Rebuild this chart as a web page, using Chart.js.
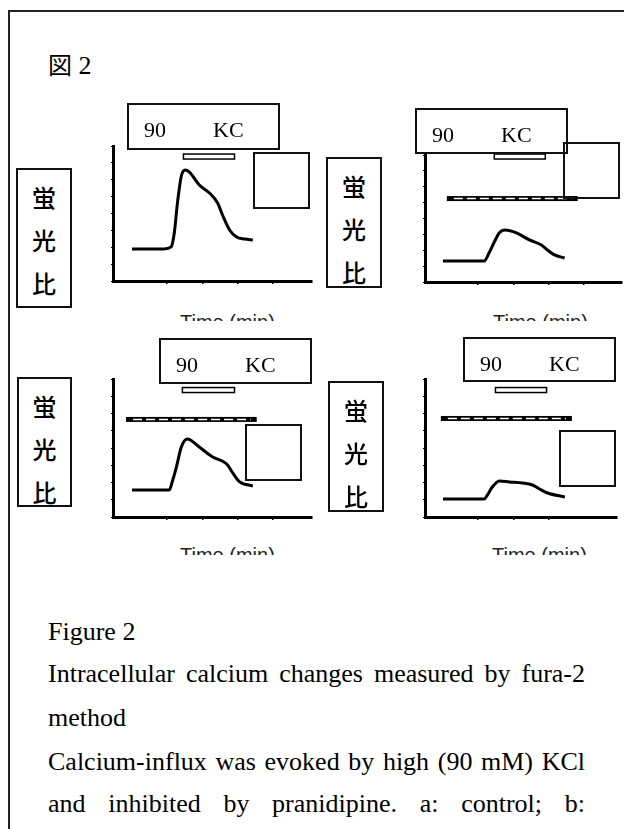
<!DOCTYPE html>
<html>
<head>
<meta charset="utf-8">
<script src="https://cdn.jsdelivr.net/npm/chart.js@4/dist/chart.umd.min.js"></script>
<style>
  html, body { margin: 0; padding: 0; background: #fff; overflow: hidden; }
  body { position: relative; width: 624px; height: 829px; }
  .abs { position: absolute; }
  .page { left: 8px; top: 10px; width: 700px; height: 900px; border: 2px solid #222; box-sizing: border-box; }
  .box { position: absolute; border: 2px solid #111; box-sizing: border-box; }
  .kc span { position: absolute; top: 14px; font: 22px/22px "Liberation Serif", serif; color: #000; }
  .ylab { padding-top: 5px; text-align: center; font: 500 24px/43px "Noto Sans CJK JP", sans-serif; color: #000; }
  .ylab div { height: 43px; }
  .tmin { position: absolute; overflow: hidden; width: 110px; }
  .tmin div { font: 20px/20px "Liberation Sans", Arial, sans-serif; color: #222; white-space: nowrap; }
  .cap { position: absolute; left: 48px; width: 537px; font: 26px/26px "Liberation Serif", serif; color: #000; white-space: nowrap; }
  .just { text-align: justify; text-align-last: justify; white-space: normal; }
  canvas { position: absolute; }
</style>
</head>
<body>
<div class="abs page"></div>
<div class="abs" style="left:48px; top:51px; font:26px/26px 'Liberation Serif', serif; color:#000;"><span style="font-family:'Noto Sans CJK JP'; font-size:24px;">図</span> 2</div>

<canvas id="chartA" width="211" height="150" style="left:107px; top:138px;"></canvas>
<canvas id="chartB" width="209" height="142" style="left:419px; top:147px;"></canvas>
<canvas id="chartC" width="211" height="153" style="left:107px; top:371px;"></canvas>
<canvas id="chartD" width="204" height="153" style="left:419px; top:371px;"></canvas>

<!-- panel a -->
<div class="box kc" style="left:127px; top:103px; width:153px; height:47px;"><span style="left:15px;">90</span><span style="left:84px;">KC</span></div>
<div class="box" style="left:253px; top:152px; width:57px; height:57px;"></div>
<div class="box ylab" style="left:16px; top:168px; width:56px; height:140px;"><div>蛍</div><div>光</div><div>比</div></div>
<div class="tmin" style="left:180px; top:312px; height:9px;"><div>Time (min)</div></div>

<!-- panel b -->
<div class="box kc" style="left:415px; top:108px; width:153px; height:46px;"><span style="left:15px;">90</span><span style="left:84px;">KC</span></div>
<div class="box" style="left:563px; top:142px; width:57px; height:57px;"></div>
<div class="box ylab" style="left:326px; top:157px; width:56px; height:131px;"><div>蛍</div><div>光</div><div>比</div></div>
<div class="tmin" style="left:493px; top:312px; height:9px;"><div>Time (min)</div></div>

<!-- panel c -->
<div class="box kc" style="left:159px; top:338px; width:153px; height:46px;"><span style="left:15px;">90</span><span style="left:84px;">KC</span></div>
<div class="box" style="left:245px; top:424px; width:57px; height:57px;"></div>
<div class="box ylab" style="left:17px; top:377px; width:55px; height:130px;"><div>蛍</div><div>光</div><div>比</div></div>
<div class="tmin" style="left:180px; top:545px; height:10px;"><div>Time (min)</div></div>

<!-- panel d -->
<div class="box kc" style="left:463px; top:337px; width:153px; height:45px;"><span style="left:15px;">90</span><span style="left:84px;">KC</span></div>
<div class="box" style="left:559px; top:430px; width:57px; height:57px;"></div>
<div class="box ylab" style="left:328px; top:381px; width:56px; height:131px;"><div>蛍</div><div>光</div><div>比</div></div>
<div class="tmin" style="left:492px; top:545px; height:10px;"><div>Time (min)</div></div>

<div class="cap" style="top:619px;">Figure 2</div>
<div class="cap just" style="top:661px;">Intracellular calcium changes measured by fura-2</div>
<div class="cap" style="top:705px;">method</div>
<div class="cap just" style="top:749px;">Calcium-influx was evoked by high (90 mM) KCl</div>
<div class="cap just" style="top:791px;">and inhibited by pranidipine. a: control; b:</div>

<script>
// traces, time in min, ratio in arbitrary units (0-10)
const timeA = [0, 0.91, 1.11, 1.2, 1.29, 1.4, 1.51, 1.63, 1.91, 2.2, 2.43, 2.57, 2.77, 2.97, 3.2, 3.43];
const ratioA = [2.37, 2.37, 2.52, 3.56, 5.78, 7.78, 8.22, 8.07, 7.11, 6.52, 5.78, 4.89, 3.78, 3.26, 3.11, 3.04];

const timeB = [0, 1.17, 1.31, 1.46, 1.6, 1.77, 2.09, 2.46, 2.8, 2.97, 3.17, 3.46];
const ratioB = [1.65, 1.65, 2.28, 3.15, 3.86, 4.09, 3.86, 3.31, 2.91, 2.52, 2.13, 1.89];

const timeC = [0, 1.06, 1.14, 1.26, 1.4, 1.57, 1.91, 2.29, 2.69, 2.86, 3.06, 3.43];
const ratioC = [1.96, 1.96, 2.54, 3.62, 5.07, 5.65, 5.07, 4.35, 3.84, 3.19, 2.54, 2.25];

const timeD = [0, 1.17, 1.26, 1.4, 1.6, 1.89, 2.26, 2.54, 2.74, 2.97, 3.46];
const ratioD = [1.3, 1.3, 1.59, 2.17, 2.61, 2.54, 2.46, 2.32, 2.03, 1.74, 1.45];

// [start, end, level] of the KCl bar and of the drug bar
const kclA = [1.46, 2.91, 9.22];
const kclB = [1.46, 2.91, 9.88];
const kclC = [1.43, 2.91, 9.2];
const kclD = [1.49, 2.94, 9.2];
const drugB = [0.11, 3.83, 6.57];
const drugC = [-0.17, 3.54, 7.07];
const drugD = [-0.06, 3.66, 7.14];

// x axis limits (min) for each panel
const xRangeA = [-0.54, 5.11];
const xRangeB = [-0.51, 5.09];
const xRangeC = [-0.54, 5.11];
const xRangeD = [-0.51, 4.94];

function barsPlugin(kcl, drug) {
  return {
    id: 'bars',
    afterDatasetsDraw(chart) {
      const ctx = chart.ctx;
      const x = chart.scales.x;
      const y = chart.scales.y;
      ctx.save();
      if (drug) {
        let x0 = x.getPixelForValue(drug[0]);
        let x1 = x.getPixelForValue(drug[1]);
        let yc = y.getPixelForValue(drug[2]);
        ctx.fillStyle = '#000';
        ctx.fillRect(x0, yc - 2.5, x1 - x0, 5);
        ctx.strokeStyle = '#fff';
        ctx.lineWidth = 1.5;
        ctx.setLineDash([9, 4]);
        ctx.beginPath();
        ctx.moveTo(x0 + 7, yc);
        ctx.lineTo(x1 - 6, yc);
        ctx.stroke();
        ctx.setLineDash([]);
      }
      if (kcl) {
        let x0 = x.getPixelForValue(kcl[0]);
        let x1 = x.getPixelForValue(kcl[1]);
        let yc = y.getPixelForValue(kcl[2]);
        ctx.fillStyle = '#fff';
        ctx.fillRect(x0, yc - 2.5, x1 - x0, 5);
        ctx.strokeStyle = '#000';
        ctx.lineWidth = 1.5;
        ctx.strokeRect(x0, yc - 2.5, x1 - x0, 5);
      }
      ctx.restore();
    }
  };
}

function makePanel(id, times, ratios, xRange, kcl, drug) {
  let points = [];
  for (let i = 0; i < times.length; i++) {
    points.push({x: times[i], y: ratios[i]});
  }
  new Chart(document.getElementById(id), {
    type: 'line',
    data: {
      datasets: [{
        data: points,
        borderColor: '#000',
        borderWidth: 3,
        pointRadius: 0,
        cubicInterpolationMode: 'monotone',
        clip: false
      }]
    },
    options: {
      responsive: false,
      animation: false,
      events: [],
      layout: { padding: {left: 4, top: 8, right: 6, bottom: 4} },
      plugins: { legend: {display: false}, tooltip: {enabled: false} },
      scales: {
        x: {
          type: 'linear', min: xRange[0], max: xRange[1],
          ticks: {display: false, stepSize: 1},
          afterBuildTicks: s => { s.ticks = s.ticks.filter(t => Number.isInteger(t.value)); },
          grid: {display: true, drawOnChartArea: false, tickLength: 3, color: '#000', lineWidth: 1.5},
          border: {display: true, color: '#000', width: 3}
        },
        y: {
          min: 0, max: 10,
          ticks: {display: false, stepSize: 1.25},
          grid: {display: true, drawOnChartArea: false, tickLength: 2, color: '#000', lineWidth: 1},
          border: {display: true, color: '#000', width: 3}
        }
      }
    },
    plugins: [barsPlugin(kcl, drug)]
  });
}

makePanel('chartA', timeA, ratioA, xRangeA, kclA, null);
makePanel('chartB', timeB, ratioB, xRangeB, kclB, drugB);
makePanel('chartC', timeC, ratioC, xRangeC, kclC, drugC);
makePanel('chartD', timeD, ratioD, xRangeD, kclD, drugD);
</script>
</body>
</html>
